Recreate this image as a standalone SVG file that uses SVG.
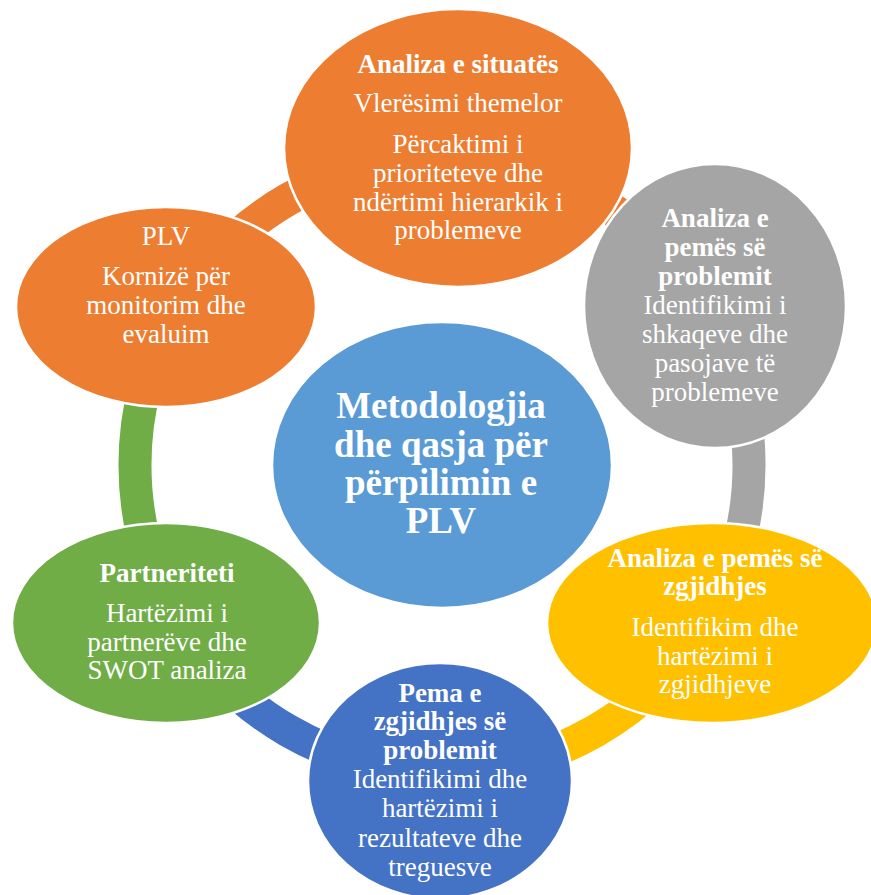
<svg xmlns="http://www.w3.org/2000/svg" width="871" height="895" viewBox="0 0 871 895">
<style>
.n{stroke:#fff;stroke-width:2.5}
.arc{fill:none;stroke-width:33}
text{font-family:"Liberation Serif","Times New Roman",serif;fill:#fff;text-anchor:middle;font-size:27px}
.b{font-weight:bold}
.c{font-weight:bold;font-size:37px}
</style>
<rect width="871" height="895" fill="#fff"/>
<g id="connectors">
<path class="arc" stroke="#ED7D31" d="M442,158 A307,307 0 0 1 707.9,311.5"/>
<path class="arc" stroke="#A5A5A5" d="M707.9,311.5 A307,307 0 0 1 707.9,618.5"/>
<path class="arc" stroke="#FFC000" d="M707.9,618.5 A307,307 0 0 1 442,772"/>
<path class="arc" stroke="#4472C4" d="M442,772 A307,307 0 0 1 176.1,618.5"/>
<path class="arc" stroke="#70AD47" d="M176.1,618.5 A307,307 0 0 1 176.1,311.5"/>
<path class="arc" stroke="#ED7D31" d="M176.1,311.5 A307,307 0 0 1 442,158"/>
</g>
<g id="center">
<ellipse class="n" cx="442" cy="465" rx="170" ry="143" fill="#5B9BD5"/>
<text class="c" x="441" y="418">Metodologjia</text>
<text class="c" x="441" y="457">dhe qasja për</text>
<text class="c" x="441" y="495">përpilimin e</text>
<text class="c" x="441" y="533">PLV</text>
</g>
<g id="node-situata">
<ellipse class="n" cx="458" cy="148" rx="174" ry="139" fill="#ED7D31"/>
<text class="b" x="458" y="73">Analiza e situatës</text>
<text x="458" y="112">Vlerësimi themelor</text>
<text x="458" y="153">Përcaktimi i</text>
<text x="458" y="182">prioriteteve dhe</text>
<text x="458" y="211">ndërtimi hierarkik i</text>
<text x="458" y="239">problemeve</text>
</g>
<g id="node-pema-problemit">
<ellipse class="n" cx="715" cy="306" rx="131" ry="142" fill="#A5A5A5"/>
<text class="b" x="715" y="227">Analiza e</text>
<text class="b" x="715" y="256">pemës së</text>
<text class="b" x="715" y="285">problemit</text>
<text x="715" y="314">Identifikimi i</text>
<text x="715" y="343">shkaqeve dhe</text>
<text x="715" y="372">pasojave të</text>
<text x="715" y="401">problemeve</text>
</g>
<g id="node-pema-zgjidhjes">
<ellipse class="n" cx="712" cy="623" rx="165" ry="100" fill="#FFC000"/>
<text class="b" x="715" y="567">Analiza e pemës së</text>
<text class="b" x="715" y="595">zgjidhjes</text>
<text x="715" y="636">Identifikim dhe</text>
<text x="715" y="665">hartëzimi i</text>
<text x="715" y="693">zgjidhjeve</text>
</g>
<g id="node-zgjidhja">
<ellipse class="n" cx="440" cy="781" rx="132" ry="118" fill="#4472C4"/>
<text class="b" x="440" y="702">Pema e</text>
<text class="b" x="440" y="730">zgjidhjes së</text>
<text class="b" x="440" y="759">problemit</text>
<text x="440" y="788">Identifikimi dhe</text>
<text x="440" y="817">hartëzimi i</text>
<text x="440" y="847">rezultateve dhe</text>
<text x="440" y="876">treguesve</text>
</g>
<g id="node-partneriteti">
<ellipse class="n" cx="166" cy="623" rx="154" ry="100" fill="#70AD47"/>
<text class="b" x="167" y="582">Partneriteti</text>
<text x="167" y="622">Hartëzimi i</text>
<text x="167" y="651">partnerëve dhe</text>
<text x="167" y="679">SWOT analiza</text>
</g>
<g id="node-plv">
<ellipse class="n" cx="166" cy="307" rx="150" ry="100" fill="#ED7D31"/>
<text x="166" y="245">PLV</text>
<text x="166" y="285">Kornizë për</text>
<text x="166" y="314">monitorim dhe</text>
<text x="166" y="343">evaluim</text>
</g>
</svg>
